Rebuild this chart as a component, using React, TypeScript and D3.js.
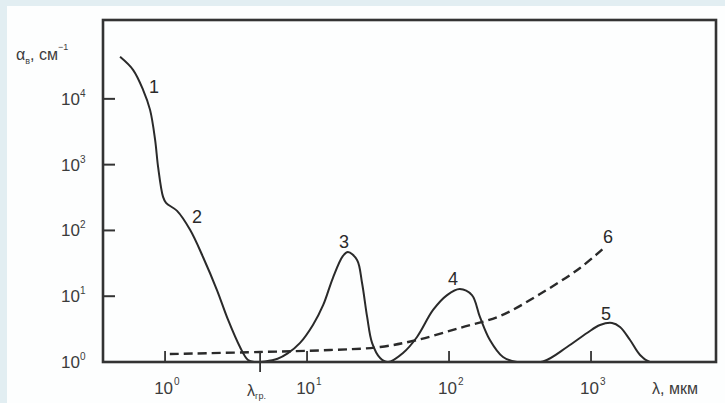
import React from "react";
import * as d3 from "d3";

// Solid curve (1–5): wavelength λ (мкм) and absorption α (см⁻¹)
const solidLambda = [0.482, 0.595, 0.70, 0.784, 0.851, 0.893, 0.968, 1.016, 1.215, 1.5, 1.85, 2.32, 2.78, 3.37, 3.84, 4.3, 5.06, 6.2, 7.3, 8.93, 11.0, 13.0, 15.2, 17.9, 19.4, 22.5, 24.4, 26.5, 28.7, 32.7, 37.2, 47.4, 59.5, 77.2, 96.9, 119, 145, 165, 194, 240, 301, 459, 678, 937, 1157, 1406, 1600, 1883, 2215, 2603, 3214];
const solidAlpha = [43500, 27600, 13700, 6800, 2380, 925, 323, 262, 198, 102, 39.5, 12.4, 4.35, 1.69, 1.07, 1.0, 1.02, 1.12, 1.35, 1.95, 3.65, 7.36, 18.9, 40.9, 47.1, 35.6, 15.9, 4.84, 1.95, 1.15, 1.0, 1.37, 2.4, 6.18, 10.4, 12.9, 10.4, 4.84, 2.16, 1.19, 1.0, 1.02, 1.69, 2.76, 3.65, 3.92, 3.41, 2.16, 1.28, 1.0, 1.0];

// Dashed curve 6
const dashedLambda = [1.08, 4.67, 14.5, 32.7, 59.5, 119, 229, 437, 837, 1255];
const dashedAlpha = [1.32, 1.42, 1.52, 1.69, 2.16, 3.29, 5.01, 10.8, 26.9, 56.1];

// Axis ticks
const yTicks = [1, 10, 100, 1000, 10000];
const yTickExp = ["0", "1", "2", "3", "4"];
const xTicks = [1, 10, 100, 1000];
const xTickExp = ["0", "1", "2", "3"];
const lambdaGr = 4.67;

// Curve labels
const curveLabels = ["1", "2", "3", "4", "5", "6"];
const labelLambda = [0.837, 1.68, 18.2, 106.7, 1276, 1318];
const labelAlpha = [12340, 130, 54.2, 14.8, 4.35, 64.5];

const W = 725;
const H = 403;
const left = 103;
const right = 716;
const top = 20;
const bottom = 362;

export default function App() {
  const x = d3.scaleLog().domain([0.3655, 7590]).range([left, right]);
  const y = d3.scaleLog().domain([1, 158000]).range([bottom, top]);

  const line = d3
    .line<[number, number]>()
    .x((d) => x(d[0]))
    .y((d) => y(d[1]))
    .curve(d3.curveCatmullRom.alpha(0.5));

  const solidPts = solidLambda.map((l, i) => [l, solidAlpha[i]] as [number, number]);
  const dashedPts = dashedLambda.map((l, i) => [l, dashedAlpha[i]] as [number, number]);

  const font = "'Liberation Sans', Arial, sans-serif";
  const ink = "#2a2a2a";
  const textCol = "#3c3c3c";

  return (
    <svg
      width={W}
      height={H}
      style={{ position: "absolute", left: 0, top: 0, display: "block" }}
      fontFamily={font}
    >
      <defs>
        <clipPath id="plotClip">
          <rect x={left} y={top} width={right - left} height={bottom - top} />
        </clipPath>
      </defs>
      <rect x={0} y={0} width={W} height={H} fill="#e2eef2" />
      <rect x={7} y={6} width={W - 7} height={H - 6} fill="#fdfefe" />

      {/* curves */}
      <g clipPath="url(#plotClip)">
        <path d={line(solidPts) || ""} fill="none" stroke={ink} strokeWidth={2} />
        <path
          d={line(dashedPts) || ""}
          fill="none"
          stroke={ink}
          strokeWidth={2.4}
          strokeDasharray="9 5"
        />
      </g>

      {/* frame */}
      <rect
        x={left}
        y={top}
        width={right - left}
        height={bottom - top}
        fill="none"
        stroke="#333"
        strokeWidth={2.6}
      />

      {/* y ticks */}
      {yTicks.map((t, i) => (
        <g key={"y" + i}>
          {i > 0 && (
            <line x1={left} x2={left + 12} y1={y(t)} y2={y(t)} stroke="#333" strokeWidth={2} />
          )}
          <text x={80} y={y(t) + 6} fontSize={17} fill={textCol} textAnchor="end">
            10
          </text>
          <text x={80} y={y(t) - 2} fontSize={10} fill={textCol} textAnchor="start">
            {yTickExp[i]}
          </text>
        </g>
      ))}

      {/* x ticks */}
      {xTicks.map((t, i) => (
        <g key={"x" + i}>
          <line x1={x(t)} x2={x(t)} y1={bottom} y2={bottom - 11} stroke="#333" strokeWidth={1.8} />
          <text x={x(t) + 8} y={394} fontSize={17} fill={textCol} textAnchor="end">
            10
          </text>
          <text x={x(t) + 9} y={385} fontSize={10} fill={textCol} textAnchor="start">
            {xTickExp[i]}
          </text>
        </g>
      ))}

      {/* λгр tick */}
      <line x1={x(lambdaGr)} x2={x(lambdaGr)} y1={bottom - 10} y2={bottom + 10} stroke="#333" strokeWidth={1.8} />
      <text x={x(lambdaGr) - 13} y={396} fontSize={16} fill={textCol}>
        λ
        <tspan fontSize={9} dy={3}>
          гр.
        </tspan>
      </text>

      {/* axis titles */}
      <text x={652} y={394} fontSize={16} fill={textCol}>
        λ, мкм
      </text>
      <text x={16} y={60} fontSize={16} fill={textCol}>
        α
        <tspan fontSize={9} dy={4}>
          в
        </tspan>
        <tspan dy={-4}>, см</tspan>
        <tspan fontSize={9} dy={-10}>
          −1
        </tspan>
      </text>

      {/* curve labels */}
      {curveLabels.map((c, i) => (
        <text
          key={"c" + i}
          x={x(labelLambda[i])}
          y={y(labelAlpha[i])}
          fontSize={18}
          fill={ink}
          textAnchor="middle"
        >
          {c}
        </text>
      ))}
    </svg>
  );
}
